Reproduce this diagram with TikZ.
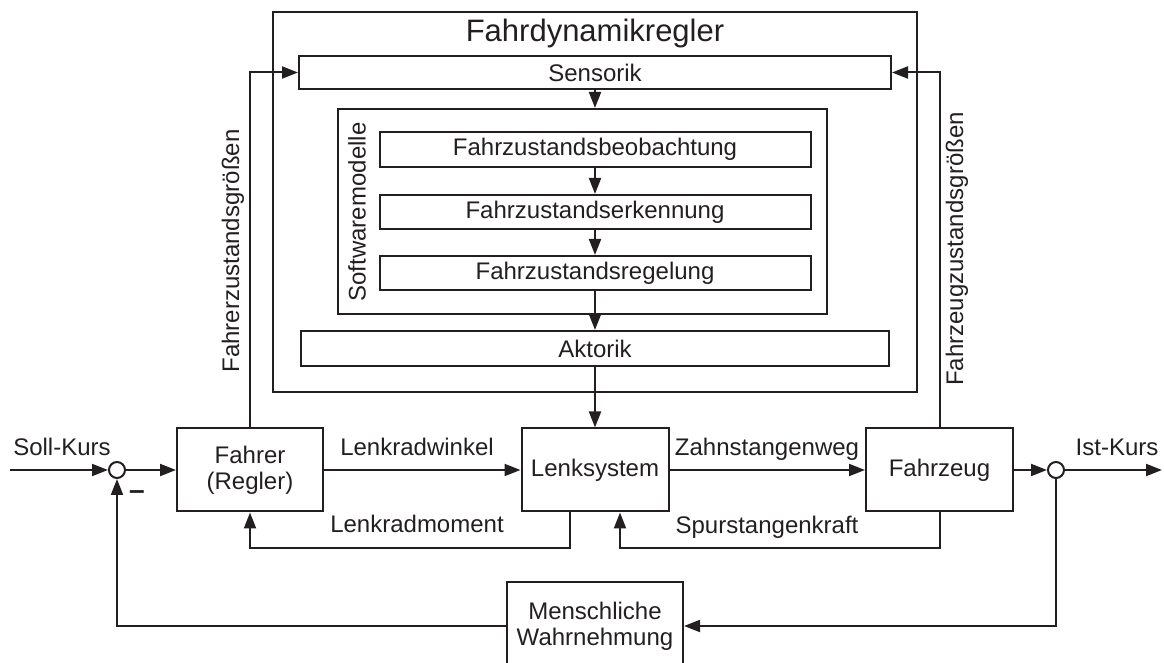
\documentclass[tikz,border=0pt]{standalone}
\usepackage{fontspec}
\setmainfont{Liberation Sans}
\usetikzlibrary{arrows.meta}
\definecolor{inkDark}{RGB}{35,31,32}
\newcommand{\BlockFont}{\fontsize{12}{13.2}\selectfont}
\newcommand{\TitleFont}{\fontsize{15.5}{18}\selectfont}
\tikzset{
  blockBox/.style={draw=inkDark,line width=1pt,align=center,inner sep=0pt,font=\BlockFont,text=inkDark},
  sumNode/.style={circle,draw=inkDark,line width=1pt,minimum size=8pt,inner sep=0pt},
  flowArrow/.style={draw=inkDark,line width=1pt,-{Triangle[length=8pt,width=6pt]}},
  sigLabel/.style={font=\BlockFont,text=inkDark,inner sep=0pt}
}

\begin{document}
\begin{tikzpicture}[x=0.5pt,y=-0.5pt]
\clip (0,0) rectangle (1164,663);
\node[blockBox,minimum width=322pt,minimum height=190pt] (fdr) at (595,202) {};
\node[sigLabel,font=\TitleFont,anchor=base] (fdrTitle) at (595,42) {Fahrdynamikregler};
\node[blockBox,minimum width=296pt,minimum height=16.5pt] (sens) at (595,72.5) {Sensorik};
\node[blockBox,minimum width=244.5pt,minimum height=102.5pt] (swm) at (582.5,211.5) {};
\node[sigLabel,rotate=90] (swmLabel) at (357,212) {Softwaremodelle};
\node[blockBox,minimum width=215.5pt,minimum height=17.5pt] (beob) at (595,149.5) {Fahrzustandsbeobachtung};
\node[blockBox,minimum width=215.5pt,minimum height=17pt] (erk) at (595,212) {Fahrzustandserkennung};
\node[blockBox,minimum width=215.5pt,minimum height=17pt] (regl) at (595,273) {Fahrzustandsregelung};
\node[blockBox,minimum width=294pt,minimum height=17.5pt] (akt) at (595,348.5) {Aktorik};
\node[blockBox,minimum width=73pt,minimum height=41.5pt] (fahrer) at (250,470) {Fahrer\\(Regler)};
\node[blockBox,minimum width=73.5pt,minimum height=41.5pt] (lenk) at (595,470) {Lenksystem};
\node[blockBox,minimum width=73.5pt,minimum height=41.5pt] (fzg) at (939.5,470) {Fahrzeug};
\node[sumNode] (sumIn) at (117,470) {};
\node[sumNode] (sumOut) at (1056,470) {};
\node[blockBox,minimum width=88pt,minimum height=44pt] (wahr) at (595,626) {Menschliche\\Wahrnehmung};
\coordinate (sollStart) at (10,470);
\coordinate (istEnd) at (1162,470);

\draw[flowArrow] (sollStart) -- (sumIn.west);
\draw[flowArrow] (sumIn.east) -- (fahrer.west);
\draw[flowArrow] (fahrer.east) -- (lenk.west);
\draw[flowArrow] (lenk.east) -- (fzg.west);
\draw[flowArrow] (fzg.east) -- (sumOut.west);
\draw[flowArrow] (sumOut.east) -- (istEnd);
\draw[flowArrow] ([xshift=-12.5pt]lenk.south) -- ++(0,36) -| (fahrer.south);
\draw[flowArrow] (fzg.south) -- ++(0,36) -| ([xshift=12.5pt]lenk.south);
\draw[flowArrow] (fahrer.north) |- (sens.west);
\draw[flowArrow] (fzg.north) |- (sens.east);
\draw[flowArrow] (sens.south) -- (sens.south |- swm.north);
\draw[flowArrow] (beob.south) -- (erk.north);
\draw[flowArrow] (erk.south) -- (regl.north);
\draw[flowArrow] (regl.south) -- (akt.north);
\draw[flowArrow] (akt.south) -- (lenk.north);
\draw[flowArrow] (sumOut.south) |- (wahr.east);
\draw[flowArrow] (wahr.west) -| (sumIn.south);

\node[sigLabel,anchor=base] (sollLabel) at (62,456) {Soll-Kurs};
\node[sigLabel,anchor=base] (istLabel) at (1117,456) {Ist-Kurs};
\node[sigLabel,anchor=base] (winkelLabel) at (417,456) {Lenkradwinkel};
\node[sigLabel,anchor=base] (wegLabel) at (767,456) {Zahnstangenweg};
\node[sigLabel,anchor=base] (momentLabel) at (417,533) {Lenkradmoment};
\node[sigLabel,anchor=base] (kraftLabel) at (767,534) {Spurstangenkraft};
\node[sigLabel,font=\fontsize{14}{16}\selectfont\bfseries] (minusLabel) at (137,495) {–};
\node[sigLabel,rotate=90] (fahrerLabel) at (233,251) {Fahrerzustandsgrößen};
\node[sigLabel,rotate=90] (fzgLabel) at (957,249) {Fahrzeugzustandsgrößen};
\end{tikzpicture}
\end{document}
